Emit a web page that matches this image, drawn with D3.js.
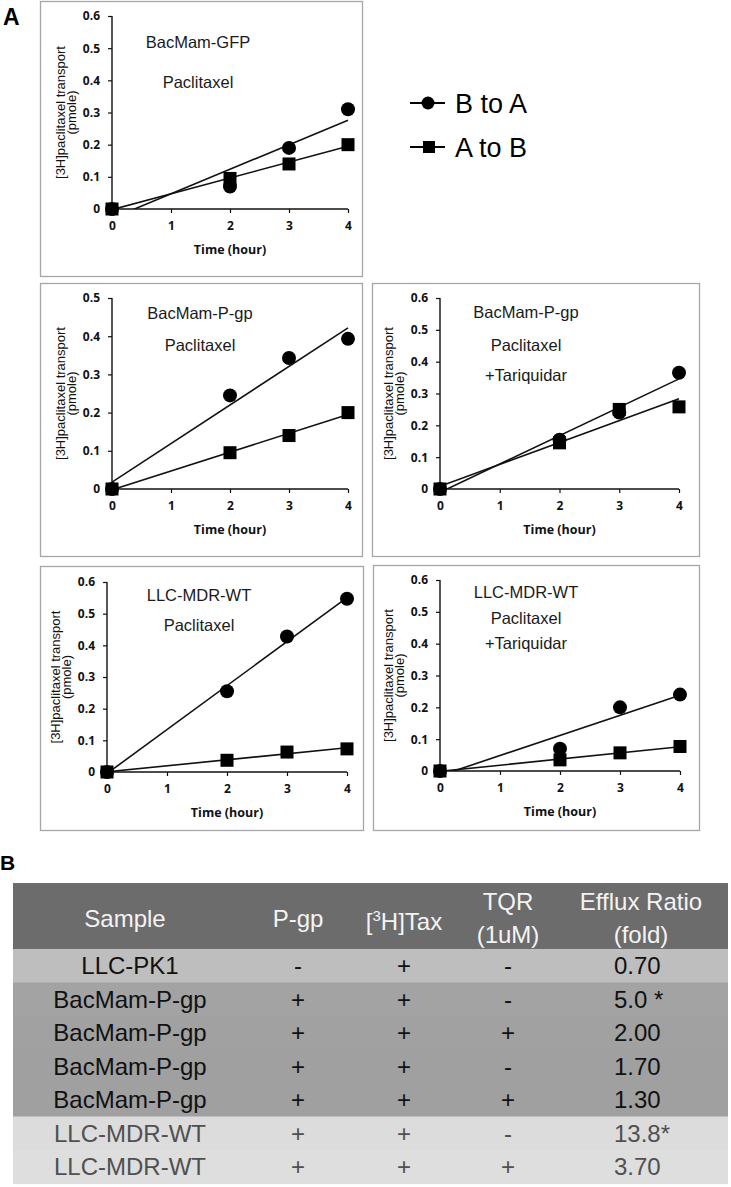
<!DOCTYPE html>
<html>
<head>
<meta charset="utf-8">
<script src="https://cdn.jsdelivr.net/npm/d3@7"></script>
<style>
  html, body { margin: 0; padding: 0; background: #fff; }
  svg { display: block; }
</style>
</head>
<body>
<svg id="chart" width="731" height="1187"></svg>
<script>
// ---------------- DATA ----------------
const hours = [0, 2, 3, 4];
const xTicks = [0, 1, 2, 3, 4];
const yTicks06 = [0, 0.1, 0.2, 0.3, 0.4, 0.5, 0.6];
const yTicks05 = [0, 0.1, 0.2, 0.3, 0.4, 0.5];

const gfpBtoA = [0, 0.07, 0.19, 0.31];
const gfpAtoB = [0, 0.095, 0.14, 0.2];
const pgpBtoA = [0, 0.245, 0.343, 0.393];
const pgpAtoB = [0, 0.095, 0.14, 0.2];
const pgpTqrBtoA = [0, 0.155, 0.24, 0.365];
const pgpTqrAtoB = [0, 0.145, 0.25, 0.258];
const mdrBtoA = [0, 0.255, 0.428, 0.547];
const mdrAtoB = [0, 0.037, 0.063, 0.073];
const mdrTqrBtoA = [0, 0.07, 0.2, 0.24];
const mdrTqrAtoB = [0, 0.035, 0.057, 0.077];

const panelTitles = [
  ["BacMam-GFP", "Paclitaxel"],
  ["BacMam-P-gp", "Paclitaxel"],
  ["BacMam-P-gp", "Paclitaxel", "+Tariquidar"],
  ["LLC-MDR-WT", "Paclitaxel"],
  ["LLC-MDR-WT", "Paclitaxel", "+Tariquidar"]
];
const seriesNames = ["B to A", "A to B"];
const xTitle = "Time (hour)";
const yTitle = ["[3H]paclitaxel transport", "(pmole)"];

const tableHeader = ["Sample", "P-gp", "[3H]Tax", "TQR|(1uM)", "Efflux Ratio|(fold)"];
const samples = ["LLC-PK1", "BacMam-P-gp", "BacMam-P-gp", "BacMam-P-gp", "BacMam-P-gp", "LLC-MDR-WT", "LLC-MDR-WT"];
const pgpCol = ["-", "+", "+", "+", "+", "+", "+"];
const taxCol = ["+", "+", "+", "+", "+", "+", "+"];
const tqrCol = ["-", "-", "+", "-", "+", "-", "+"];
const effluxCol = ["0.70", "5.0 *", "2.00", "1.70", "1.30", "13.8*", "3.70"];

// ---------------- LAYOUT ----------------
const svg = d3.select("#chart");
const panels = [
  { b: gfpBtoA, a: gfpAtoB, ymax: 0.6, ticks: yTicks06, box: [40, 1, 362, 276], xL: 112, xR: 348, y0: 209, yT: 16, tx: 198, ty: [48, 88] },
  { b: pgpBtoA, a: pgpAtoB, ymax: 0.5, ticks: yTicks05, box: [40, 283, 362, 556], xL: 112, xR: 348, y0: 489, yT: 298, tx: 200, ty: [319, 351] },
  { b: pgpTqrBtoA, a: pgpTqrAtoB, ymax: 0.6, ticks: yTicks06, box: [372, 283, 699, 556], xL: 440, xR: 679, y0: 489, yT: 298, tx: 526, ty: [318, 351, 381] },
  { b: mdrBtoA, a: mdrAtoB, ymax: 0.6, ticks: yTicks06, box: [40, 566, 363, 830], xL: 107, xR: 347, y0: 772, yT: 582, tx: 199, ty: [601, 631] },
  { b: mdrTqrBtoA, a: mdrTqrAtoB, ymax: 0.6, ticks: yTicks06, box: [373, 565, 699, 830], xL: 440, xR: 680, y0: 771, yT: 580, tx: 526, ty: [598, 624, 649] }
];

const tickFont = "'Open Sans', sans-serif";
const arial = "'Liberation Sans', Arial, sans-serif";

function fit(vals) {
  const mx = d3.mean(hours), my = d3.mean(vals);
  let sxy = 0, sxx = 0;
  hours.forEach((h, i) => { sxy += (h - mx) * (vals[i] - my); sxx += (h - mx) * (h - mx); });
  const slope = sxy / sxx;
  return { slope, intercept: my - slope * mx };
}

panels.forEach((p, pi) => {
  const g = svg.append("g");
  const [bx0, by0, bx1, by1] = p.box;
  g.append("rect").attr("x", bx0 + 0.5).attr("y", by0 + 0.5)
    .attr("width", bx1 - bx0).attr("height", by1 - by0)
    .attr("fill", "none").attr("stroke", "#a6a6a6").attr("stroke-width", 1.3);

  const x = d3.scaleLinear().domain([0, 4]).range([p.xL, p.xR]);
  const y = d3.scaleLinear().domain([0, p.ymax]).range([p.y0, p.yT]);

  // clip for trend lines
  const cid = "clip" + pi;
  g.append("clipPath").attr("id", cid).append("rect")
    .attr("x", p.xL).attr("y", p.yT - 10).attr("width", p.xR - p.xL + 2).attr("height", p.y0 - p.yT + 10);

  // axes
  const yAxis = d3.axisLeft(y).tickValues(p.ticks).tickSize(4).tickPadding(8)
    .tickFormat(d => d === 0 ? "0" : d3.format(".1f")(d));
  const xAxis = d3.axisBottom(x).tickValues(xTicks).tickSize(4).tickPadding(8).tickFormat(d3.format("d"));

  const ya = g.append("g").attr("transform", `translate(${p.xL},0)`).call(yAxis);
  const xa = g.append("g").attr("transform", `translate(0,${p.y0})`).call(xAxis);
  [ya, xa].forEach(a => {
    a.select(".domain").attr("stroke", "#111").attr("stroke-width", 1.4);
    a.selectAll(".tick line").attr("stroke", "#111").attr("stroke-width", 1.2);
    a.selectAll(".tick text").attr("font-family", tickFont).attr("font-weight", 700)
      .attr("font-size", 12).attr("fill", "#111");
  });
  ya.select(".domain").attr("d", `M0,${p.y0}V${p.yT}`);
  xa.select(".domain").attr("d", `M${p.xL},0H${p.xR}`);

  // axis titles
  g.append("text").attr("x", (p.xL + p.xR) / 2).attr("y", p.y0 + 45)
    .attr("text-anchor", "middle").attr("font-family", tickFont).attr("font-weight", 700)
    .attr("font-size", 12.5).attr("fill", "#111").text(xTitle);
  const ymid = (p.y0 + p.yT) / 2;
  yTitle.forEach((t, i) => {
    g.append("text").attr("transform", `translate(${p.xL - 47 + i * 11},${ymid}) rotate(-90)`)
      .attr("text-anchor", "middle").attr("font-family", arial).attr("font-size", 13)
      .attr("fill", "#111").text(t);
  });

  // panel title lines
  panelTitles[pi].forEach((t, i) => {
    g.append("text").attr("x", p.tx).attr("y", p.ty[i]).attr("text-anchor", "middle")
      .attr("font-family", arial).attr("font-size", 16.5).attr("fill", "#1a1a1a").text(t);
  });

  // trend lines
  [p.b, p.a].forEach(vals => {
    const f = fit(vals);
    g.append("line").attr("clip-path", `url(#${cid})`)
      .attr("x1", x(0)).attr("y1", y(f.intercept))
      .attr("x2", x(4)).attr("y2", y(f.intercept + f.slope * 4))
      .attr("stroke", "#111").attr("stroke-width", 1.6);
  });

  // markers
  g.selectAll(".c").data(p.b).enter().append("circle")
    .attr("cx", (d, i) => x(hours[i])).attr("cy", d => y(d)).attr("r", 7).attr("fill", "#000");
  const s = 13;
  g.selectAll(".s").data(p.a).enter().append("rect")
    .attr("x", (d, i) => x(hours[i]) - s / 2).attr("y", d => y(d) - s / 2)
    .attr("width", s).attr("height", s).attr("fill", "#000");
});

// legend
const leg = svg.append("g");
seriesNames.forEach((n, i) => {
  const ly = i === 0 ? 103 : 147;
  leg.append("line").attr("x1", 410).attr("x2", 445).attr("y1", ly).attr("y2", ly)
    .attr("stroke", "#000").attr("stroke-width", 2);
  if (i === 0) leg.append("circle").attr("cx", 428).attr("cy", ly).attr("r", 6.5).attr("fill", "#000");
  else leg.append("rect").attr("x", 423).attr("y", ly - 6).attr("width", 12).attr("height", 12).attr("fill", "#000");
  leg.append("text").attr("x", 455).attr("y", ly + 9.5).attr("font-family", arial)
    .attr("font-size", 27).attr("fill", "#000").text(n);
});

// panel letters
svg.append("text").attr("x", 3).attr("y", 25).attr("font-family", arial).attr("font-weight", 700)
  .attr("font-size", 23).text("A");
svg.append("text").attr("x", 0).attr("y", 870).attr("font-family", arial).attr("font-weight", 700)
  .attr("font-size", 21).text("B");

// ---------------- TABLE ----------------
const tbl = svg.append("g");
const tL = 13, tR = 728, hTop = 883, hBot = 949, rowH = 33.5;
const colX = [130, 298, 404, 508, 641];
tbl.append("rect").attr("x", tL).attr("y", hTop).attr("width", tR - tL).attr("height", hBot - hTop).attr("fill", "#6c6c6c");
const rowFill = ["#bebebe", "#a3a3a3", "#a1a1a1", "#a0a0a0", "#a0a0a0", "#dcdcdc", "#dedede"];
const rowText = ["#111", "#111", "#111", "#111", "#111", "#505050", "#505050"];
samples.forEach((s, i) => {
  tbl.append("rect").attr("x", tL).attr("y", hBot + i * rowH).attr("width", tR - tL)
    .attr("height", rowH + 0.6).attr("fill", rowFill[i]);
});
// header text
tableHeader.forEach((h, j) => {
  const parts = h.split("|");
  const t = tbl.append("text").attr("text-anchor", "middle").attr("font-family", arial)
    .attr("font-size", 24).attr("fill", "#f4f4f4");
  if (parts.length === 2) {
    t.append("tspan").attr("x", colX[j]).attr("y", 910).text(parts[0]);
    t.append("tspan").attr("x", colX[j]).attr("y", 943).text(parts[1]);
  } else if (h === "[3H]Tax") {
    t.attr("x", colX[j]).attr("y", 930);
    t.append("tspan").text("[");
    t.append("tspan").attr("font-size", 15).attr("dy", -9).text("3");
    t.append("tspan").attr("dy", 9).text("H]Tax");
  } else {
    t.attr("x", j === 0 ? 125 : colX[j]).attr("y", 927).text(h);
  }
});
// body
const cols = [samples, pgpCol, taxCol, tqrCol];
samples.forEach((s, i) => {
  const cy = hBot + i * rowH + rowH / 2 + 8.5;
  cols.forEach((c, j) => {
    tbl.append("text").attr("x", colX[j]).attr("y", cy).attr("text-anchor", "middle")
      .attr("font-family", arial).attr("font-size", 24).attr("fill", rowText[i]).text(c[i]);
  });
  tbl.append("text").attr("x", 614).attr("y", cy).attr("text-anchor", "start")
    .attr("font-family", arial).attr("font-size", 24).attr("fill", rowText[i]).text(effluxCol[i]);
});
</script>
</body>
</html>
